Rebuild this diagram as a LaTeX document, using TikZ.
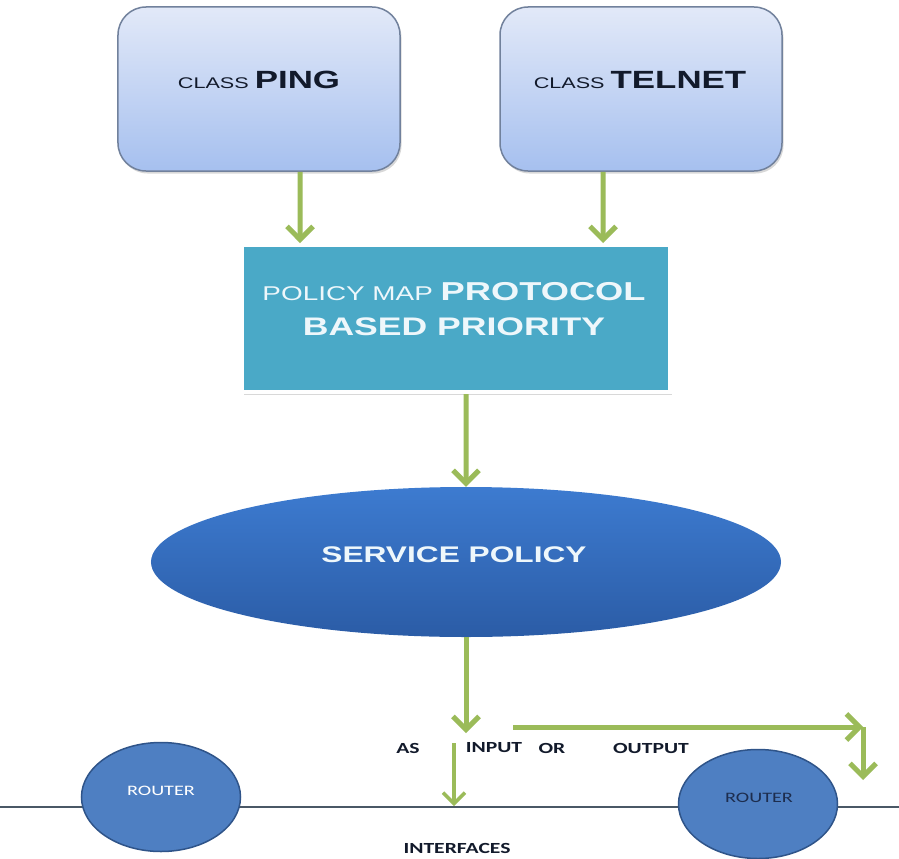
\documentclass[tikz,border=0pt]{standalone}
\usepackage{fontspec}
\usepackage{graphicx}
\setmainfont{Liberation Sans}
\newfontfamily\labelfont{Carlito}
\usetikzlibrary{arrows.meta,shapes.geometric,shadows}

\definecolor{flowgreen}{HTML}{9BBB59}
\definecolor{classtop}{HTML}{E2E9F8}
\definecolor{classbottom}{HTML}{A6C0EF}
\definecolor{classedge}{HTML}{71819C}
\definecolor{policyteal}{HTML}{4AA9C7}
\definecolor{svctop}{HTML}{3D7BD0}
\definecolor{svcbottom}{HTML}{2B5CA6}
\definecolor{routerfill}{HTML}{4E7FC2}
\definecolor{routeredge}{HTML}{2F5489}
\definecolor{wirecolor}{HTML}{4A5866}
\definecolor{inktext}{HTML}{121A2B}
\definecolor{paletext}{HTML}{EEF7FB}
\definecolor{routerdark}{HTML}{1D2D4E}

% horizontally widened lettering
\newcommand\widetext[1]{\scalebox{1.4}[1]{#1}}
\newcommand\sz[1]{\fontsize{#1}{#1}\selectfont}

\begin{document}
\begin{tikzpicture}[x=1bp,y=-1bp,
  classbox/.style={draw=classedge, line width=1.5bp, rounded corners=28bp,
    top color=classtop, bottom color=classbottom,
    minimum width=282bp, minimum height=164bp, inner sep=0pt,
    drop shadow={shadow xshift=1.5bp, shadow yshift=-2.5bp, opacity=0.3}},
  policybox/.style={fill=policyteal, draw=white, line width=4bp,
    minimum width=428bp, minimum height=147bp, inner sep=0pt,
    drop shadow={shadow xshift=2bp, shadow yshift=-2.5bp, opacity=0.3}},
  svcshape/.style={ellipse, top color=svctop, bottom color=svcbottom,
    minimum width=630bp, minimum height=150bp, inner sep=0pt},
  router/.style={ellipse, fill=routerfill, draw=routeredge, line width=1.5bp,
    minimum width=159bp, minimum height=109bp, inner sep=0pt},
  flow/.style={draw=flowgreen, line width=5bp,
    -{Straight Barb[length=13bp,width=26bp]}},
  thinflow/.style={draw=flowgreen, line width=3.5bp,
    -{Straight Barb[length=11bp,width=22bp]}},
  wire/.style={draw=wirecolor, line width=1.5bp},
  plain/.style={inner sep=0pt, outer sep=0pt},
  tag/.style={plain, text=inktext, font=\labelfont\bfseries\sz{15.5}}
]
\fill[white] (0,0) rectangle (899,859);
\useasboundingbox (0,0) rectangle (899,859);

% class boxes
\node[classbox] (ping) at (259,89) {};
\node[classbox] (telnet) at (641,89) {};
\node[plain, text=inktext] (pingtext) at ([yshift=9bp]ping.center)
  {\widetext{\sz{15.5}CLASS \sz{25}\bfseries PING}};
\node[plain, text=inktext] (telnettext) at ([xshift=-1bp,yshift=9bp]telnet.center)
  {\widetext{\sz{15.5}CLASS \sz{25}\bfseries TELNET}};

% policy map
\node[policybox] (policy) at (456,318.5) {};
\node[plain, text=paletext] (policyone) at ([xshift=-2bp,yshift=26.5bp]policy.center)
  {\widetext{\sz{20}POLICY MAP \sz{26}\bfseries PROTOCOL}};
\node[plain, text=paletext] (policytwo) at ([xshift=-2bp,yshift=-8.5bp]policy.center)
  {\widetext{\sz{25.5}\bfseries BASED PRIORITY}};

% service policy
\node[svcshape] (svc) at (466,562) {};
\node[plain, text=paletext] (svctext) at ([xshift=-12bp,yshift=7bp]svc.center)
  {\widetext{\sz{22.7}\bfseries SERVICE POLICY}};

% interface wire and routers
\coordinate (wireleft) at (0,807);
\coordinate (wireright) at (899,807);
\draw[wire] (wireleft) -- (wireright);
\node[router] (routerA) at (161,797) {};
\node[router] (routerB) at (758,804) {};
\node[plain, text=white] (routerAtext) at ([yshift=6bp]routerA.center)
  {\widetext{\labelfont\sz{14.5}ROUTER}};
\node[plain, text=routerdark] (routerBtext) at ([xshift=1bp,yshift=6bp]routerB.center)
  {\widetext{\labelfont\sz{14.5}ROUTER}};

% labels
\node[tag] (astext) at (408,748) {\widetext{AS}};
\node[tag] (inputtext) at (494,748) {\widetext{INPUT}};
\node[tag] (ortext) at (552,748) {\widetext{OR}};
\node[tag] (outputtext) at (651,748) {\widetext{OUTPUT}};
\node[tag] (iftext) at (457,848) {\widetext{INTERFACES}};

% connectors
\coordinate (svcout) at (466,733);
\coordinate (hstart) at (513,727);
\coordinate (corner) at (863,727);
\coordinate (outtip) at (863,780);
\coordinate (instart) at (454,743);
\coordinate (intip) at (454,806);

\draw[flow] ([xshift=41bp]ping.south) -- ([xshift=-156bp]policy.north);
\draw[flow] ([xshift=-38bp]telnet.south) -- ([xshift=147bp]policy.north);
\draw[flow] ([xshift=10bp]policy.south) -- (svc.north);
\draw[flow] (svc.south) -- (svcout);
\draw[flow] (hstart) -- (corner);
\draw[flow] (corner) -- (outtip);
\draw[thinflow] (instart) -- (intip);
\end{tikzpicture}
\end{document}
